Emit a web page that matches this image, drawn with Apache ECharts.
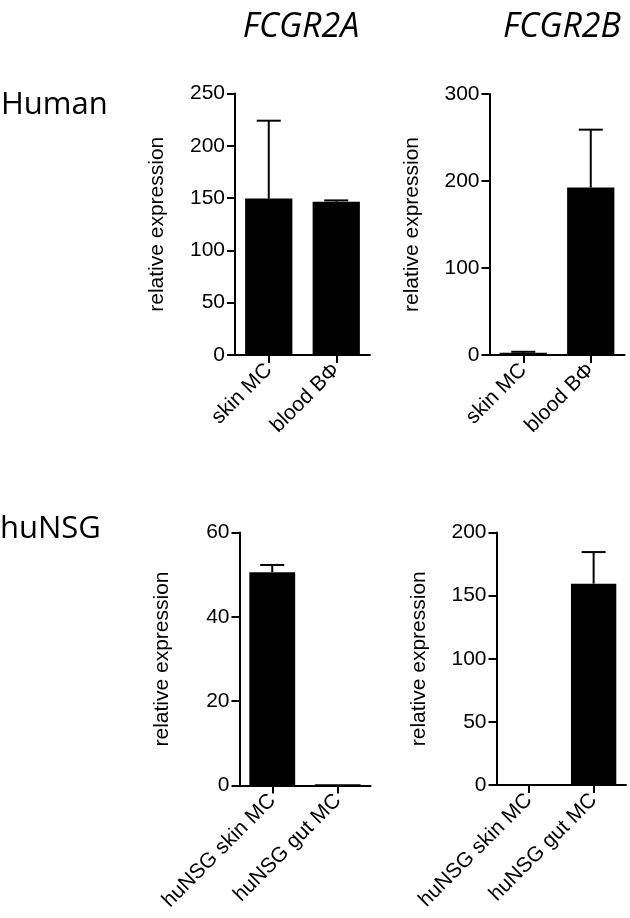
<!DOCTYPE html>
<html>
<head>
<meta charset="utf-8">
<script src="https://cdn.jsdelivr.net/npm/echarts@6/dist/echarts.min.js"></script>
<style>
html,body{margin:0;padding:0;background:#fff;}
#c{width:630px;height:918px;}
</style>
</head>
<body>
<div id="c"></div>
<script>
// ---- data ----
const humanCategories = ['skin MC', 'blood BΦ'];
const nsgCategories = ['huNSG skin MC', 'huNSG gut MC'];

const fcgr2aHumanMean = [149.5, 146.5];
const fcgr2aHumanErr  = [74.5, 1.3];
const fcgr2bHumanMean = [2.5, 192.5];
const fcgr2bHumanErr  = [1.2, 66.5];
const fcgr2aNsgMean   = [50.6, 0.3];
const fcgr2aNsgErr    = [1.7, 0];
const fcgr2bNsgMean   = [0, 159.5];
const fcgr2bNsgErr    = [0, 25.0];

const yMax = [250, 300, 60, 200];
const yInterval = [50, 100, 20, 50];

const panelTitles = ['FCGR2A', 'FCGR2B'];
const rowTitles = ['Human', 'huNSG'];
const yName = 'relative expression';

// ---- layout ----
const grids = [
  {left: 235, top: 93.5, width: 135, height: 261.5},
  {left: 489.5, top: 94, width: 135, height: 261},
  {left: 239.5, top: 532.5, width: 131, height: 253},
  {left: 496.5, top: 532.5, width: 129.5, height: 252.5}
];
const cats = [humanCategories, humanCategories, nsgCategories, nsgCategories];
const means = [fcgr2aHumanMean, fcgr2bHumanMean, fcgr2aNsgMean, fcgr2bNsgMean];
const errs = [fcgr2aHumanErr, fcgr2bHumanErr, fcgr2aNsgErr, fcgr2bNsgErr];

const FONT = 'Liberation Sans';
const axisLine = {lineStyle: {color: '#000', width: 2}};

const xAxes = cats.map((c, i) => ({
  type: 'category', gridIndex: i, data: c,
  axisLine: Object.assign({onZero: false}, axisLine),
  axisTick: {show: true, alignWithLabel: true, length: 8, lineStyle: {color: '#000', width: 2}},
  axisLabel: {rotate: 45, margin: 12, color: '#000', fontSize: 21, fontFamily: FONT, interval: 0},
  splitLine: {show: false}
}));

const yAxes = yMax.map((m, i) => ({
  type: 'value', gridIndex: i, min: 0, max: m, interval: yInterval[i],
  name: yName, nameLocation: 'middle', nameGap: 67, nameRotate: 90,
  nameTextStyle: {color: '#000', fontSize: 21, fontFamily: FONT},
  axisLine: Object.assign({show: true}, axisLine),
  axisTick: {show: true, length: 8, lineStyle: {color: '#000', width: 2}},
  axisLabel: {margin: 10, color: '#000', fontSize: 21, fontFamily: FONT},
  splitLine: {show: false}
}));

const series = [];
means.forEach((m, i) => {
  series.push({
    type: 'bar', xAxisIndex: i, yAxisIndex: i, data: m,
    barWidth: '70%', itemStyle: {color: '#000'}, silent: true
  });
  series.push({
    type: 'custom', xAxisIndex: i, yAxisIndex: i, silent: true, z: 1,
    data: m.map((v, j) => [j, v, errs[i][j]]),
    renderItem: function (params, api) {
      const e = api.value(2);
      if (!e) return null;
      const p0 = api.coord([api.value(0), api.value(1)]);
      const p1 = api.coord([api.value(0), api.value(1) + e]);
      const hw = 12;
      const st = {stroke: '#000', lineWidth: 2};
      return {
        type: 'group',
        children: [
          {type: 'line', shape: {x1: p0[0], y1: p0[1], x2: p1[0], y2: p1[1]}, style: st},
          {type: 'line', shape: {x1: p1[0] - hw, y1: p1[1], x2: p1[0] + hw, y2: p1[1]}, style: st}
        ]
      };
    }
  });
});

const titleFont = '"Open Sans", "Noto Sans", sans-serif';
const graphic = [
  {type: 'text', x: 301, y: 27, style: {text: panelTitles[0], font: 'italic 34px ' + titleFont, fill: '#000', align: 'center', verticalAlign: 'middle'}},
  {type: 'text', x: 562, y: 27, style: {text: panelTitles[1], font: 'italic 34px ' + titleFont, fill: '#000', align: 'center', verticalAlign: 'middle'}},
  {type: 'text', x: 1, y: 105, style: {text: rowTitles[0], font: '31px ' + titleFont, fill: '#000', align: 'left', verticalAlign: 'middle'}},
  {type: 'text', x: 0, y: 529, style: {text: rowTitles[1], font: '31px ' + titleFont, fill: '#000', align: 'left', verticalAlign: 'middle'}}
];

const chart = echarts.init(document.getElementById('c'), null, {renderer: 'canvas'});
chart.setOption({
  animation: false,
  backgroundColor: '#fff',
  grid: grids,
  xAxis: xAxes,
  yAxis: yAxes,
  series: series,
  graphic: graphic
});
</script>
</body>
</html>
